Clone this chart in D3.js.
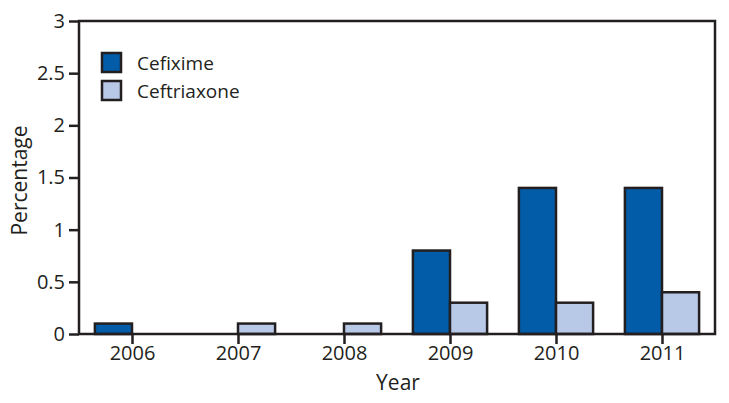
<html>
<head>
  <script src="https://d3js.org/d3.v7.min.js"></script>
  <style>
    body { margin: 0; background: #fff; }
    text { font-family: "Open Sans", Arial, sans-serif; fill: #231f20; }
    .axis .domain { display: none; }
    .axis line { stroke: #231f20; stroke-width: 2.5; }
    .axis text { font-size: 20px; }
  </style>
</head>
<body>
<svg id="chart" width="729" height="403"></svg>
<script>
  const years = ["2006", "2007", "2008", "2009", "2010", "2011"];
  const series = ["Cefixime", "Ceftriaxone"];
  const cefixime = [0.1, 0, 0, 0.8, 1.4, 1.4];
  const ceftriaxone = [0, 0.1, 0.1, 0.3, 0.3, 0.4];
  const yTicks = [0, 0.5, 1, 1.5, 2, 2.5, 3];
  const colors = ["#035ca8", "#b8c8e7"];

  const svg = d3.select("svg#chart");
  const margin = {top: 21, right: 14, bottom: 69, left: 79};
  const width = +svg.attr("width"), height = +svg.attr("height");
  const chartWidth = width - margin.left - margin.right;
  const chartHeight = height - margin.top - margin.bottom;

  const g = svg.append("g").attr("transform", "translate(" + margin.left + "," + margin.top + ")");

  const x = d3.scaleBand().domain(years).range([0, chartWidth]).paddingInner(0.3).paddingOuter(0.15);
  const xInner = d3.scaleBand().domain(series).range([0, x.bandwidth()]);
  const y = d3.scaleLinear().domain([0, 3]).range([chartHeight, 0]);

  const rows = years.map((yr, i) => ({year: yr, values: [cefixime[i], ceftriaxone[i]]}));

  // bars
  rows.forEach(r => {
    r.values.forEach((v, j) => {
      if (v <= 0) return;
      g.append("rect")
        .attr("x", x(r.year) + xInner(series[j]))
        .attr("y", y(v))
        .attr("width", xInner.bandwidth())
        .attr("height", chartHeight - y(v))
        .attr("fill", colors[j])
        .attr("stroke", "#231f20")
        .attr("stroke-width", 2.5);
    });
  });

  // frame
  g.append("rect").attr("x", 0).attr("y", 0).attr("width", chartWidth).attr("height", chartHeight)
    .attr("fill", "none").attr("stroke", "#231f20").attr("stroke-width", 2.5);

  // axes
  const yAxis = d3.axisLeft(y).tickValues(yTicks).tickSize(10).tickPadding(4).tickFormat(d => d);
  g.append("g").attr("class", "axis").call(yAxis);

  // ticks at centre of each year's pair
  const xCenter = d3.scalePoint().domain(years).range([x(years[0]) + x.bandwidth() / 2, x(years[years.length - 1]) + x.bandwidth() / 2]);
  const xAxis = d3.axisBottom(xCenter).tickSize(10).tickPadding(2);
  g.append("g").attr("class", "axis").attr("transform", "translate(0," + chartHeight + ")").call(xAxis);

  // axis titles
  svg.append("text").attr("x", 398).attr("y", 390)
    .attr("text-anchor", "middle").style("font-size", "21px").text("Year");
  svg.append("text").attr("transform", "translate(27," + (margin.top + chartHeight / 2 + 3) + ") rotate(-90)")
    .attr("text-anchor", "middle").style("font-size", "21px").text("Percentage");

  // legend
  const legend = g.append("g").attr("transform", "translate(23,32)");
  series.forEach((s, i) => {
    legend.append("rect").attr("x", 0).attr("y", i * 28).attr("width", 19).attr("height", 19)
      .attr("fill", colors[i]).attr("stroke", "#231f20").attr("stroke-width", 2.5);
    legend.append("text").attr("x", 35).attr("y", i * 28 + 17).style("font-size", "19px").text(s);
  });
</script>
</body>
</html>
